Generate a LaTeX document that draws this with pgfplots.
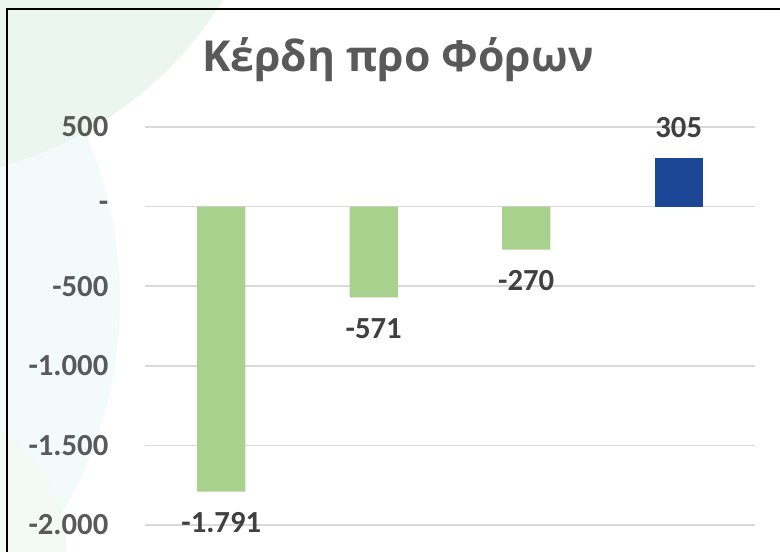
\documentclass[border=0pt]{standalone}
\usepackage{fontspec}
\setmainfont{Carlito}
\newfontfamily\titlefont{Open Sans}
\usepackage{pgfplots}
\pgfplotsset{compat=1.18}
\definecolor{barGreen}{HTML}{A9D18E}
\definecolor{barBlue}{HTML}{1B4796}
\definecolor{tickGray}{HTML}{595959}
\definecolor{lblGray}{HTML}{404040}
\definecolor{gridGray}{HTML}{D9D9D9}
\definecolor{bgGreen}{HTML}{EBF6F0}
\definecolor{bgTeal}{HTML}{F3FAFA}

\begin{document}
\begin{tikzpicture}
% canvas 780x552 px, 1px = 0.75pt
\path[use as bounding box] (0,0) rectangle (585pt,414pt);
\begin{scope}
\clip (0,0) rectangle (585pt,414pt);
\fill[bgTeal] (-225pt,189pt) circle (315pt);
\fill[bgGreen] (-75pt,564pt) circle (285pt);
\fill[bgGreen!60!white] (-60pt,0pt) circle (110pt);
\end{scope}
\draw[black, line width=1.5pt] (5.25pt,-2pt) -- (5.25pt,407.25pt) -- (590pt,407.25pt);
\node[font=\titlefont\bfseries\fontsize{32}{36}\selectfont, text=tickGray] at (298.5pt,369pt) {Κέρδη προ Φόρων};

\begin{axis}[
    at={(108.75pt,20.25pt)}, anchor=south west,
    scale only axis,
    width=457.5pt, height=298.5pt,
    ybar, bar width=0.315,
    xmin=-0.5, xmax=3.5,
    ymin=-2000, ymax=500,
    xtick=\empty,
    ytick={-2000,-1500,-1000,-500,0,500},
    yticklabels={-2.000,-1.500,-1.000,-500,-,500},
    major tick length=0pt,
    axis line style={draw=none},
    ymajorgrids,
    grid style={gridGray, line width=1.1pt},
    yticklabel style={font=\bfseries\fontsize{23}{27}\selectfont, text=tickGray, anchor=east, xshift=-24pt},
    clip=false,
    point meta=explicit symbolic,
    nodes near coords,
]
\addplot[fill=barGreen, draw=none, bar shift=0pt,
    every node near coord/.style={anchor=north, inner sep=0pt, yshift=-15.5pt,
        font=\bfseries\fontsize{23}{27}\selectfont, text=lblGray}]
    coordinates {(0,-1791) [-1.791] (1,-571) [-571] (2,-270) [-270]};
\addplot[fill=barBlue, draw=none, bar shift=0pt,
    every node near coord/.style={anchor=south, inner sep=0pt, yshift=15pt,
        font=\bfseries\fontsize{23}{27}\selectfont, text=lblGray}]
    coordinates {(3,305) [305]};
\end{axis}
\end{tikzpicture}
\end{document}
